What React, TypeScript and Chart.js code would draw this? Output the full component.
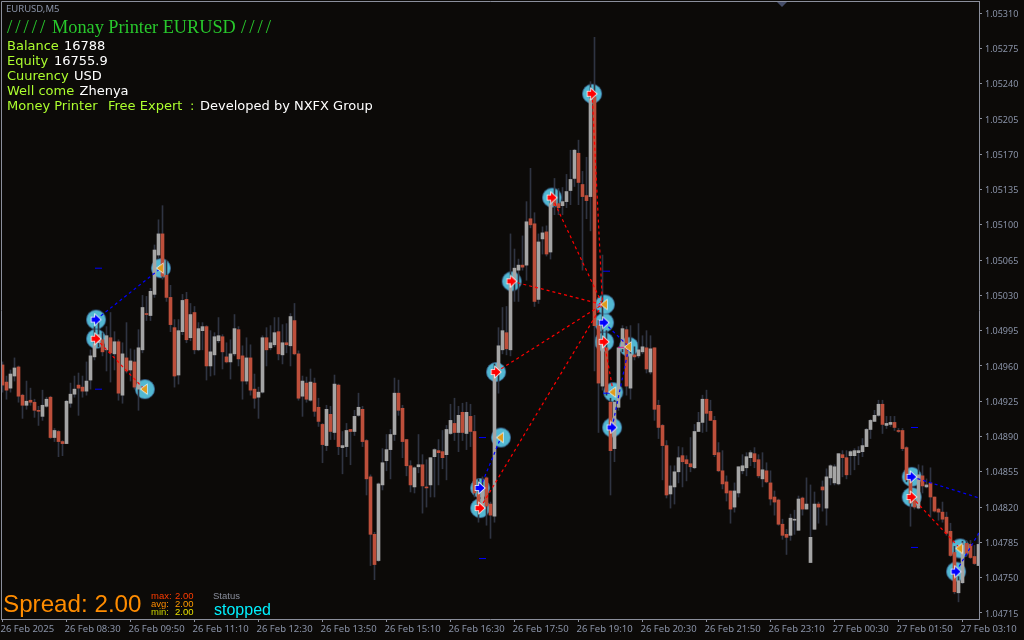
import React, { useEffect, useRef } from "react";
import { Chart, registerables } from "chart.js";

Chart.register(...registerables);

// Prices are stored as points above 1.00000 (4961 = 1.04961).
const opens = [
  4961,4944,4938,4950,4959,4931,4921,4926,4924,4916,
  4910,4920,4929,4889,4895,4885,4883,4923,4932,4941,
  4939,4935,4946,4969,4983,4986,4976,4988,4972,4984,
  4931,4968,4956,4964,4937,4976,5012,5010,5031,5070,
  5091,5050,5028,4998,4951,4994,5026,4988,5013,4976,
  4995,4999,4960,4971,4985,4989,4969,4964,4972,4996,
  4970,4945,4968,4937,4929,4934,4988,4978,4981,4994,
  4971,4983,4980,5005,4972,4930,4943,4926,4943,4919,
  4902,4881,4912,4894,4941,4879,4880,4897,4895,4911,
  4917,4886,4850,4793,4767,4842,4866,4877,4892,4933,
  4918,4887,4861,4840,4860,4862,4840,4842,4870,4876,
  4875,4872,4893,4903,4894,4914,4893,4910,4895,4833,
  4820,4849,4823,4811,4952,4976,4993,4976,5045,5055,
  5060,5060,5106,5101,5026,5086,5093,5073,5126,5121,
  5119,5123,5134,5146,5171,5140,5129,5128,5227,5000,
  4940,4978,4924,4878,4919,4977,4996,4938,4971,4970,
  4974,4978,4954,4978,4921,4901,4881,4833,4840,4855,
  4871,4867,4863,4859,4895,4904,4927,4915,4906,4874,
  4856,4845,4836,4820,4834,4856,4859,4869,4873,4867,
  4848,4856,4844,4830,4827,4803,4793,4792,4807,4797,
  4829,4818,4765,4798,4823,4840,4819,4849,4844,4843,
  4872,4869,4871,4871,4874,4875,4880,4897,4905,4911,
  4922,4901,4902,4904,4896,4896,4879,4847,4827,4819,
  4851,4840,4844,4830,4818,4815,4810,4796,4775,4735,
  4745,4784,4783,4771,4762,
];
const closes = [
  4941,4936,4952,4958,4930,4921,4925,4924,4916,4915,
  4921,4927,4889,4896,4885,4883,4925,4932,4937,4938,
  4935,4945,4970,4982,4991,4974,4990,4973,4984,4933,
  4972,4955,4965,4939,4978,5018,5011,5034,5075,5091,
  5049,5028,5001,4950,4995,5025,4986,5011,4976,4997,
  4999,4960,4974,4989,4990,4974,4964,4972,4997,4967,
  4945,4968,4936,4928,4934,4988,4976,4983,4993,4972,
  4983,4981,5009,4972,4928,4945,4927,4944,4915,4905,
  4882,4917,4895,4942,4880,4881,4896,4895,4910,4919,
  4885,4848,4793,4763,4843,4864,4877,4892,4933,4916,
  4885,4861,4842,4859,4862,4841,4839,4869,4877,4874,
  4869,4897,4906,4894,4911,4894,4914,4895,4834,4823,
  4840,4821,4812,4952,4980,4995,4977,5043,5057,5060,
  5058,5103,5100,5024,5083,5092,5071,5121,5119,5117,
  5123,5133,5145,5174,5142,5128,5124,5225,5000,4943,
  4982,4934,4876,4924,4978,4997,4940,4972,4969,4976,
  4979,4957,4977,4917,4899,4881,4832,4841,4855,4869,
  4865,4863,4860,4895,4904,4927,4913,4906,4872,4856,
  4843,4834,4818,4836,4860,4861,4870,4874,4865,4851,
  4857,4845,4828,4825,4803,4792,4790,4809,4808,4828,
  4818,4823,4790,4823,4820,4837,4850,4861,4860,4873,
  4869,4852,4875,4876,4876,4881,4897,4906,4911,4922,
  4902,4903,4904,4899,4895,4878,4847,4824,4820,4852,
  4841,4842,4830,4816,4815,4808,4794,4772,4736,4747,
  4782,4774,4770,4764,4783,
];
const highs = [
  4964,4950,4956,4968,4960,4932,4945,4938,4927,4920,
  4936,4929,4930,4898,4896,4886,4926,4943,4950,4953,
  4950,4964,4976,4999,5003,4993,4999,5013,4994,4986,
  4983,5003,4977,4976,4996,5030,5029,5037,5080,5105,
  5119,5065,5040,5006,5006,5031,5033,5022,5019,5003,
  5003,5000,4995,4993,5008,4991,4983,4986,5011,4999,
  4980,4988,4981,4952,4939,4990,4998,5000,5008,5008,
  5001,5002,5012,5022,4975,4950,4949,4957,4948,4928,
  4903,4921,4920,4951,4942,4895,4903,4897,4916,4933,
  4920,4887,4852,4795,4844,4878,4892,4897,4948,4946,
  4921,4887,4866,4860,4892,4872,4867,4869,4878,4887,
  4896,4901,4922,4928,4920,4923,4924,4922,4911,4848,
  4850,4850,4825,4962,4998,5018,5019,5091,5076,5066,
  5089,5123,5156,5112,5091,5098,5099,5126,5146,5136,
  5137,5150,5174,5175,5184,5153,5167,5242,5286,5005,
  5070,4995,4928,4926,4979,5000,4999,5000,4979,5002,
  4990,4995,4990,4978,4926,4902,4886,4861,4861,4880,
  4879,4871,4889,4902,4914,4931,4936,4926,4910,4884,
  4876,4851,4836,4844,4860,4872,4874,4876,4879,4872,
  4874,4864,4856,4836,4828,4808,4798,4813,4817,4831,
  4830,4849,4842,4835,4825,4846,4858,4862,4862,4873,
  4876,4876,4876,4878,4880,4888,4898,4907,4916,4926,
  4926,4910,4910,4910,4898,4898,4880,4848,4829,4862,
  4861,4848,4859,4830,4819,4825,4815,4804,4781,4751,
  4786,4787,4787,4782,4794,
];
const lows = [
  4934,4927,4934,4945,4924,4908,4917,4921,4909,4901,
  4906,4919,4888,4885,4870,4871,4883,4919,4929,4911,
  4929,4931,4937,4966,4979,4970,4955,4944,4956,4926,
  4923,4953,4945,4937,4916,4973,5005,5005,5028,5067,
  5046,5024,4994,4939,4942,4991,4983,4985,4972,4975,
  4976,4946,4950,4951,4983,4957,4963,4947,4970,4960,
  4927,4942,4931,4918,4908,4933,4960,4976,4979,4966,
  4962,4973,4960,4971,4926,4910,4924,4925,4910,4900,
  4864,4876,4887,4887,4872,4853,4870,4862,4891,4910,
  4880,4832,4762,4748,4766,4837,4856,4848,4886,4911,
  4869,4851,4835,4834,4854,4814,4820,4830,4830,4842,
  4858,4847,4892,4886,4875,4886,4877,4880,4830,4805,
  4818,4802,4789,4805,4933,4972,4971,4970,5024,5024,
  5055,5045,5097,5019,5022,5071,5069,5066,5110,5110,
  5110,5117,5120,5138,5120,5055,5106,5094,4955,4894,
  4936,4931,4832,4865,4916,4974,4931,4927,4966,4968,
  4972,4953,4952,4906,4888,4847,4829,4819,4823,4844,
  4840,4846,4855,4858,4895,4894,4895,4906,4870,4855,
  4838,4826,4804,4815,4830,4853,4851,4861,4859,4849,
  4840,4844,4822,4812,4802,4788,4773,4787,4793,4797,
  4812,4818,4765,4798,4804,4816,4802,4842,4842,4842,
  4850,4848,4852,4857,4862,4870,4880,4888,4905,4910,
  4893,4898,4900,4896,4894,4876,4845,4801,4818,4818,
  4834,4839,4810,4815,4807,4805,4792,4771,4734,4726,
  4744,4771,4769,4763,4762,
];

const timeLabels = [
  "26 Feb 2025","26 Feb 08:30","26 Feb 09:50","26 Feb 11:10","26 Feb 12:30","26 Feb 13:50",
  "26 Feb 15:10","26 Feb 16:30","26 Feb 17:50","26 Feb 19:10","26 Feb 20:30","26 Feb 21:50",
  "26 Feb 23:10","27 Feb 00:30","27 Feb 01:50","27 Feb 03:10",
];
const priceTicks = [
  5310,5275,5240,5205,5170,5135,5100,5065,5030,4995,4960,4925,4890,4855,4820,4785,4750,4715,
];

// Entry / exit markers: bar position and price.
const buyBars = [23.4,119.4,150.4,152.4,227.3,238.4];
const buyPrices = [5006,4839,5003,4899,4850,4756];
const sellBars = [23.4,119.4,123.4,127.3,137.4,147.4,150.4,227.3];
const sellPrices = [4987,4819,4954,5044,5127,5230,4984,4830];
const exitBars = [39.6,35.6,124.6,150.6,152.7,156.6,239.4];
const exitPrices = [5057,4937,4889,5021,4934,4979,4779];

// Trade lines: fromBar, fromPrice, toBar, toPrice.
const redTrades = [
  [23.4,4987,35.4,4937],[119.4,4819,150,5021],[123.4,4954,150,5021],[127.3,5044,150,5021],
  [137.4,5127,150,5021],[147.4,5230,150,5021],[150.4,4984,152.7,4934],[227.3,4830,239.4,4779],
];
const blueTrades = [
  [23.4,5006,39.6,5057],[119.4,4839,124.6,4889],[150.4,5003,156.6,4979],[152.4,4899,156.6,4979],
  [227.3,4850,244.2,4829],[238.4,4756,244.2,4795],
];

// Short stop / target dashes.
const stopBars = [23.9,23.9,120.1,120.1,150.9,150.9,228,228];
const stopPrices = [5057,4937,4889,4769,5054,4933,4899,4780];
const magentaBars = [149.4,154.6];
const magentaPrices = [5021,4979];

const price = (pts: number) => 1 + pts / 100000;

const BG = "#0c0a08";
const RED = "#bd4f3b";
const GRAY = "#a5a5a5";
const WICK = "#2f3442";
const AXIS = "#8b8f9c";
const LABEL = "#8a93a8";

function sprite(size: number, draw: (g: CanvasRenderingContext2D) => void) {
  const c = document.createElement("canvas");
  c.width = size;
  c.height = size;
  draw(c.getContext("2d")!);
  return c;
}

const circleSprite = () =>
  sprite(22, (g) => {
    g.beginPath();
    g.arc(11, 11, 9.6, 0, Math.PI * 2);
    g.fillStyle = "#52b8d2";
    g.strokeStyle = "#3f6f9f";
    g.lineWidth = 0.8;
    g.fill();
    g.stroke();
  });

const arrowSprite = (fill: string) =>
  sprite(14, (g) => {
    g.beginPath();
    g.moveTo(2.5, 4.8);
    g.lineTo(6, 4.8);
    g.lineTo(6, 2);
    g.lineTo(11.5, 7);
    g.lineTo(6, 12);
    g.lineTo(6, 9.2);
    g.lineTo(2.5, 9.2);
    g.closePath();
    g.fillStyle = fill;
    g.strokeStyle = "#ffffff";
    g.lineWidth = 1.6;
    g.stroke();
    g.fill();
  });

const exitSprite = () =>
  sprite(14, (g) => {
    g.beginPath();
    g.moveTo(3, 7);
    g.lineTo(9, 2.5);
    g.lineTo(9, 11.5);
    g.closePath();
    g.fillStyle = "#e09a1a";
    g.strokeStyle = "#ffffff";
    g.lineWidth = 1.2;
    g.stroke();
    g.fill();
  });

const dashSprite = (color: string, length: number) =>
  sprite(length, (g) => {
    g.fillStyle = color;
    g.fillRect(0, Math.floor(length / 2), length, 1);
  });

const pts = (xs: number[], ys: number[]) => xs.map((x, i) => ({ x, y: price(ys[i]) }));

const overlayPlugin = {
  id: "overlay",
  beforeDraw(chart: any) {
    const { ctx, width, height } = chart;
    ctx.save();
    ctx.fillStyle = BG;
    ctx.fillRect(0, 0, width, height);
    ctx.restore();
  },
  afterDraw(chart: any) {
    const { ctx, chartArea: a } = chart;
    ctx.save();
    ctx.strokeStyle = AXIS;
    ctx.lineWidth = 1;
    ctx.beginPath();
    ctx.moveTo(a.left + 0.5, a.bottom);
    ctx.lineTo(a.left + 0.5, a.top + 0.5);
    ctx.lineTo(a.right, a.top + 0.5);
    ctx.stroke();

    // chart shift marker
    ctx.fillStyle = "#454d68";
    ctx.beginPath();
    ctx.moveTo(777, 2);
    ctx.lineTo(787, 2);
    ctx.lineTo(782, 7);
    ctx.closePath();
    ctx.fill();

    ctx.textBaseline = "alphabetic";
    const t = (s: string, x: number, y: number, font: string, color: string) => {
      ctx.font = font;
      ctx.fillStyle = color;
      ctx.fillText(s, x, y);
    };
    const body = '13px "DejaVu Sans"';
    const lime = "#adff2f";
    const green = "#28c82c";
    t("EURUSD,M5", 6, 12, '9.5px "Noto Sans"', LABEL);
    ctx.letterSpacing = "3px";
    t("/////", 7, 33, '19px "Liberation Serif"', green);
    t("////", 241, 33, '19px "Liberation Serif"', green);
    ctx.letterSpacing = "0px";
    t("Monay Printer EURUSD", 52, 33, '18.3px "Liberation Serif"', green);
    t("Balance", 7, 50, body, lime);
    t("16788", 64, 50, body, "#ffffff");
    t("Equity", 7, 65, body, lime);
    t("16755.9", 54, 65, body, "#ffffff");
    t("Cuurency", 7, 80, body, lime);
    t("USD", 74, 80, body, "#ffffff");
    t("Well come", 7, 95, body, lime);
    t("Zhenya", 79.5, 95, body, "#ffffff");
    t("Money Printer", 7, 110, body, lime);
    t("Free Expert", 108, 110, body, lime);
    t(":", 190, 110, body, lime);
    t("Developed by NXFX Group", 200, 110, body, "#ffffff");

    t("Spread: 2.00", 3, 612, '24.2px "Liberation Sans"', "#ff8c00");
    t("max:", 151, 599, '9.5px "Liberation Sans"', "#ff3c00");
    t("2.00", 175, 599, '9.5px "Liberation Sans"', "#ff3c00");
    t("avg:", 151, 607, '9.5px "Liberation Sans"', "#ff8c00");
    t("2.00", 175, 607, '9.5px "Liberation Sans"', "#ff9c00");
    t("min:", 151, 615, '9.5px "Liberation Sans"', "#c8d000");
    t("2.00", 175, 615, '9.5px "Liberation Sans"', "#e8e000");
    t("Status", 213, 599, '9.5px "Liberation Sans"', "#8a8f9c");
    t("stopped", 214, 615, '16px "Liberation Sans"', "#00f0ff");
    ctx.restore();
  },
};

const noPadding = (s: any) => {
  s.paddingLeft = 0;
  s.paddingRight = 0;
  s.paddingTop = 0;
  s.paddingBottom = 0;
};

const markerSet = (order: number, data: any[], pointStyle: any) => ({
  type: "line",
  showLine: false,
  order,
  data,
  pointStyle,
  pointRadius: 0.5,
  pointBorderWidth: 0,
  borderWidth: 1,
});

export default function App() {
  const ref = useRef<HTMLCanvasElement>(null);

  useEffect(() => {
    const bars = opens.map((_, i) => i);
    const datasets: any[] = [
      markerSet(
        6,
        [...pts(buyBars, buyPrices), ...pts(sellBars, sellPrices), ...pts(exitBars, exitPrices)],
        circleSprite(),
      ),
      {
        type: "bar",
        order: 5,
        barThickness: 1,
        grouped: false,
        data: bars.map((i) => ({ x: i, y: [price(lows[i]), price(highs[i])] })),
        backgroundColor: WICK,
        borderWidth: 0,
      },
      {
        type: "bar",
        order: 4,
        barThickness: 3,
        grouped: false,
        data: bars.map((i) => ({
          x: i,
          y: [price(Math.min(opens[i], closes[i])), price(Math.max(opens[i], closes[i]))],
        })),
        backgroundColor: bars.map((i) => (closes[i] >= opens[i] ? GRAY : RED)),
        borderWidth: 0,
      },
      ...redTrades.map((l) => ({
        type: "line",
        order: 3,
        data: [{ x: l[0], y: price(l[1]) }, { x: l[2], y: price(l[3]) }],
        borderColor: "#ff0000",
        borderWidth: 1.2,
        borderDash: [3, 3],
        pointRadius: 0,
      })),
      ...blueTrades.map((l) => ({
        type: "line",
        order: 3,
        data: [{ x: l[0], y: price(l[1]) }, { x: l[2], y: price(l[3]) }],
        borderColor: "#0000ff",
        borderWidth: 1.2,
        borderDash: [3, 3],
        pointRadius: 0,
      })),
      markerSet(2, pts(stopBars, stopPrices), dashSprite("#0000ff", 7)),
      markerSet(2, pts(magentaBars, magentaPrices), dashSprite("#d02090", 6)),
      markerSet(1, pts(buyBars, buyPrices), arrowSprite("#0000ff")),
      markerSet(1, pts(sellBars, sellPrices), arrowSprite("#ff0000")),
      markerSet(1, pts(exitBars, exitPrices), exitSprite()),
    ];

    const chart = new Chart(ref.current!, {
      type: "bar",
      data: { datasets },
      plugins: [overlayPlugin],
      options: {
        animation: false,
        responsive: false,
        devicePixelRatio: 1,
        layout: { autoPadding: false, padding: { left: 1, top: 1, right: 0, bottom: 0 } },
        plugins: { legend: { display: false }, tooltip: { enabled: false } },
        scales: {
          x: {
            type: "linear",
            min: -0.375,
            max: 244.125,
            offset: false,
            grid: { drawOnChartArea: false, drawTicks: true, tickLength: 3, tickColor: AXIS, offset: false },
            border: { display: true, color: AXIS },
            afterBuildTicks: (s: any) => {
              s.ticks = timeLabels.map((_, k) => ({ value: k * 16 }));
            },
            afterFit: (s: any) => {
              s.height = 21;
              noPadding(s);
            },
            ticks: {
              autoSkip: false,
              maxRotation: 0,
              minRotation: 0,
              align: "start",
              padding: 2,
              labelOffset: -2,
              color: LABEL,
              font: { family: '"Noto Sans"', size: 9.5 },
              callback: (v: any) => timeLabels[Math.round(v / 16)],
            },
          },
          y: {
            type: "linear",
            position: "right",
            min: price(4709),
            max: price(5322),
            grid: { drawOnChartArea: false, drawTicks: true, tickLength: 3, tickColor: AXIS },
            border: { display: true, color: AXIS },
            afterBuildTicks: (s: any) => {
              s.ticks = priceTicks.map((p) => ({ value: price(p) }));
            },
            afterFit: (s: any) => {
              s.width = 45;
              noPadding(s);
            },
            ticks: {
              autoSkip: false,
              padding: 3,
              labelOffset: 1,
              color: LABEL,
              font: { family: '"Noto Sans"', size: 9 },
              callback: (v: any) => Number(v).toFixed(5),
            },
          },
        },
      },
    } as any);
    return () => chart.destroy();
  }, []);

  return (
    <canvas
      ref={ref}
      width={1024}
      height={640}
      style={{ position: "fixed", left: 0, top: 0, width: 1024, height: 640, display: "block" }}
    />
  );
}
